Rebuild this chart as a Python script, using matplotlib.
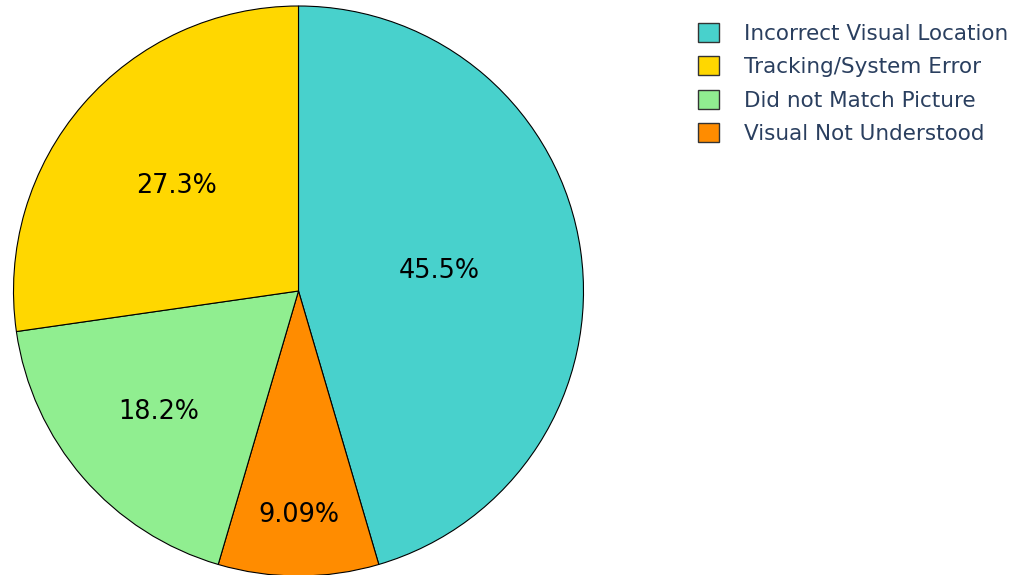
import matplotlib
matplotlib.use("Agg")
import matplotlib.pyplot as plt
from matplotlib.patches import Patch
import numpy as np

# Error categories in drawing order (clockwise from 12 o'clock)
categories = ["Incorrect Visual Location", "Visual Not Understood",
              "Did not Match Picture", "Tracking/System Error"]
counts = [5, 1, 2, 3]
colors = ["#48D1CC", "#FF8C00", "#90EE90", "#FFD700"]
# Legend order (largest first)
legend_order = ["Incorrect Visual Location", "Tracking/System Error",
                "Did not Match Picture", "Visual Not Understood"]

# Radial position of each percentage label, as a fraction of the radius
label_radius = [0.50, 0.785, 0.65, 0.565]

W, H = 1018, 575
fig = plt.figure(figsize=(W / 100, H / 100), dpi=100)
ax = fig.add_axes([0, 0, 1, 1])

cx, cy, R = 298.5, H - 291, 285
wedges, _ = ax.pie(counts, colors=colors, startangle=90, counterclock=False,
                   center=(cx, cy), radius=R, frame=True,
                   wedgeprops=dict(edgecolor="black", linewidth=0.8))
ax.set_xlim(0, W)
ax.set_ylim(0, H)
ax.set_aspect("equal")
ax.axis("off")

total = sum(counts)
for w, c, fr in zip(wedges, counts, label_radius):
    ang = np.deg2rad((w.theta1 + w.theta2) / 2)
    pct = 100 * c / total
    ax.text(cx + fr * R * np.cos(ang), cy + fr * R * np.sin(ang),
            f"{pct:.3g}%", ha="center", va="center",
            fontsize=18.4, color="black", family="DejaVu Sans")

col = dict(zip(categories, colors))
handles = [Patch(facecolor=col[n], edgecolor="#333333", linewidth=1.0, label=n)
           for n in legend_order]
leg = fig.legend(handles=handles, loc="upper left",
                 bbox_to_anchor=(698 / W, 1 - 23 / H), frameon=False,
                 handlelength=0.98, handleheight=0.98, handletextpad=1.16,
                 labelspacing=0.585, borderpad=0, borderaxespad=0,
                 prop=dict(family="DejaVu Sans", size=15.5))
for t in leg.get_texts():
    t.set_color("#2a3f5f")

fig.savefig("out.png", dpi=100, facecolor="white")
